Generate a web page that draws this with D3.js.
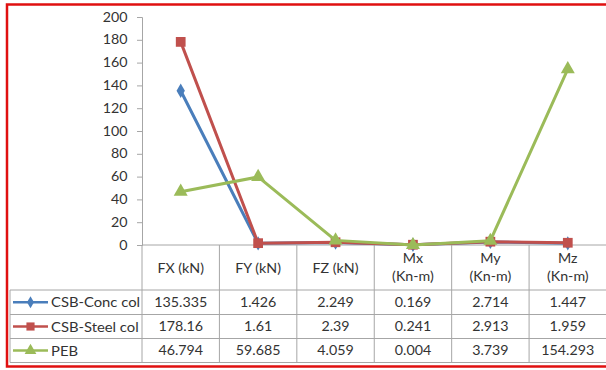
<!DOCTYPE html>
<html>
<head>
<meta charset="utf-8">
<script src="https://cdn.jsdelivr.net/npm/d3@7"></script>
<style>
  html, body { margin: 0; padding: 0; background: #fff; }
  svg { display: block; }
  text { font-family: Lato, "Open Sans", sans-serif; fill: #333; }
</style>
</head>
<body>
<svg id="chart" width="606" height="370"></svg>
<script>
// Column headers (multi-line labels as arrays)
const categories = ["FX (kN)", "FY (kN)", "FZ (kN)", "Mx (Kn-m)", "My (Kn-m)", "Mz (Kn-m)"];
const headerLines = [["FX (kN)"], ["FY (kN)"], ["FZ (kN)"], ["Mx", "(Kn-m)"], ["My", "(Kn-m)"], ["Mz", "(Kn-m)"]];

// Series values
const seriesNames = ["CSB-Conc col", "CSB-Steel col", "PEB"];
const concCol  = [135.335, 1.426, 2.249, 0.169, 2.714, 1.447];
const steelCol = [178.16, 1.61, 2.39, 0.241, 2.913, 1.959];
const peb      = [46.794, 59.685, 4.059, 0.004, 3.739, 154.293];
const seriesValues = [concCol, steelCol, peb];
const seriesLabels = [
  ["135.335", "1.426", "2.249", "0.169", "2.714", "1.447"],
  ["178.16", "1.61", "2.39", "0.241", "2.913", "1.959"],
  ["46.794", "59.685", "4.059", "0.004", "3.739", "154.293"]
];
const yTicks = [0, 20, 40, 60, 80, 100, 120, 140, 160, 180, 200];

const colors = ["#4a7ebb", "#c0504d", "#9bbb59"];
const markers = [d3.symbolDiamond, d3.symbolSquare, d3.symbolTriangle];
const markerSizes = [60, 95, 85];

const svg = d3.select("#chart");

// Layout
const plotLeft = 142, plotRight = 606.5, plotTop = 17, plotBottom = 245;
const tableLeft = 10;
const rowLines = [290, 314.5, 338.5, 362.5];
const stretch = 1.14;   // horizontal widening of the text glyphs

const x = d3.scaleBand().domain(categories).range([plotLeft, plotRight]);
const y = d3.scaleLinear().domain([0, 200]).range([plotBottom, plotTop]);

const gridColor = "#a6a6a6";

// Text helper: places a horizontally widened label at (tx, ty)
function label(tx, ty, str, anchor, size) {
  return svg.append("text")
    .attr("transform", `translate(${tx},${ty}) scale(${stretch},1)`)
    .attr("text-anchor", anchor)
    .attr("dominant-baseline", "central")
    .style("font-size", size + "px")
    .text(str);
}

// Y axis
const yAxis = d3.axisLeft(y).tickValues(yTicks).tickSize(5).tickPadding(9).tickFormat(d3.format("d"));
const gy = svg.append("g").attr("transform", `translate(${plotLeft},0)`).call(yAxis);
gy.select(".domain").attr("stroke", gridColor).attr("stroke-width", 1);
gy.selectAll(".tick line").attr("stroke", gridColor);
gy.selectAll(".tick text")
  .style("font-size", "12.5px").style("font-family", "Lato, sans-serif").attr("fill", "#333")
  .attr("x", -14.5 / stretch)
  .attr("transform", `scale(${stretch},1)`);

// Category axis line
svg.append("line")
  .attr("x1", plotLeft).attr("x2", plotRight)
  .attr("y1", plotBottom).attr("y2", plotBottom)
  .attr("stroke", gridColor);

// Data table: vertical separators
const colEdges = categories.map(c => x(c)).concat([plotRight]);
colEdges.forEach(cx => {
  svg.append("line")
    .attr("x1", cx).attr("x2", cx)
    .attr("y1", plotBottom).attr("y2", rowLines[rowLines.length - 1])
    .attr("stroke", gridColor);
});
svg.append("line")
  .attr("x1", tableLeft).attr("x2", tableLeft)
  .attr("y1", rowLines[0]).attr("y2", rowLines[rowLines.length - 1])
  .attr("stroke", gridColor);
rowLines.forEach(ry => {
  svg.append("line")
    .attr("x1", tableLeft).attr("x2", plotRight)
    .attr("y1", ry).attr("y2", ry)
    .attr("stroke", gridColor);
});

// Header labels
categories.forEach((c, i) => {
  const lines = headerLines[i];
  const cx = x(c) + x.bandwidth() / 2;
  const centers = lines.length === 1 ? [268] : [258.5, 276.5];
  lines.forEach((ln, j) => label(cx, centers[j], ln, "middle", 12.5));
});

// Table rows: legend key + values
seriesNames.forEach((name, s) => {
  const cy = (rowLines[s] + rowLines[s + 1]) / 2;
  svg.append("line")
    .attr("x1", 13).attr("x2", 48)
    .attr("y1", cy).attr("y2", cy)
    .attr("stroke", colors[s]).attr("stroke-width", 2.5);
  svg.append("path")
    .attr("d", d3.symbol().type(markers[s]).size(markerSizes[s] * 0.7)())
    .attr("transform", `translate(30.5,${cy})`)
    .attr("fill", colors[s]);
  label(51, cy, name, "start", 13);
  categories.forEach((c, i) => {
    label(x(c) + x.bandwidth() / 2, cy, seriesLabels[s][i], "middle", 12.5);
  });
});

// Lines and markers
const line = d3.line()
  .x((d, i) => x(categories[i]) + x.bandwidth() / 2)
  .y(d => y(d));

seriesValues.forEach((vals, s) => {
  const g = svg.append("g");
  g.append("path")
    .datum(vals)
    .attr("d", line)
    .attr("fill", "none")
    .attr("stroke", colors[s])
    .attr("stroke-width", 3)
    .attr("stroke-linejoin", "round");
  g.selectAll("path.marker")
    .data(vals)
    .join("path")
    .attr("class", "marker")
    .attr("d", d3.symbol().type(markers[s]).size(markerSizes[s])())
    .attr("transform", (d, i) => `translate(${x(categories[i]) + x.bandwidth() / 2},${y(d)})`)
    .attr("fill", colors[s]);
});

// Outer frame
svg.append("rect")
  .attr("x", 7).attr("y", 4.5)
  .attr("width", 604).attr("height", 362)
  .attr("fill", "none")
  .attr("stroke", "#e01010")
  .attr("stroke-width", 2.5);
</script>
</body>
</html>
